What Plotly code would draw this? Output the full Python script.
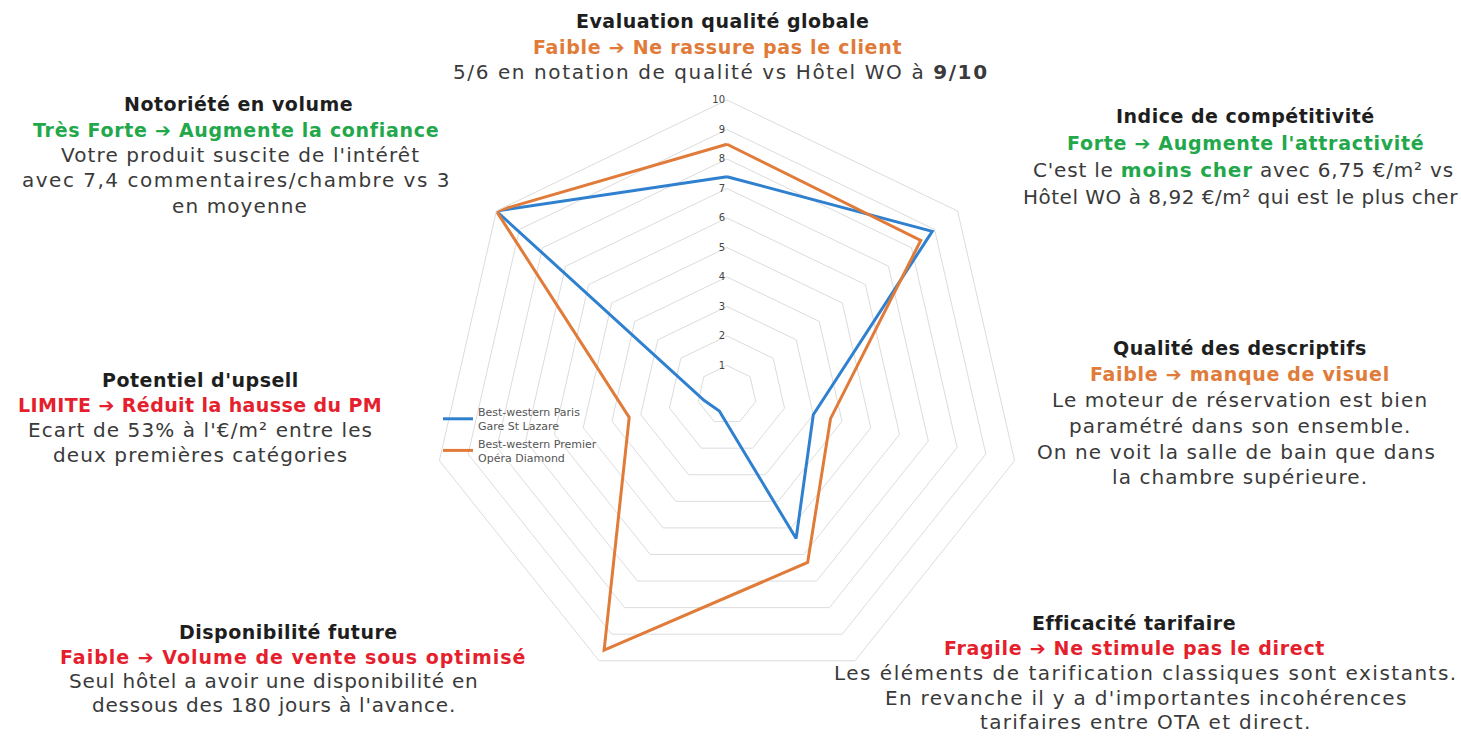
import plotly.graph_objects as go

categories = ["Evaluation qualité globale", "Indice de compétitivité", "Qualité des descriptifs",
              "Efficacité tarifaire", "Disponibilité future", "Potentiel d'upsell", "Notoriété en volume"]
blue_name = "Best-western Paris<br>Gare St Lazare"
orange_name = "Best-western Premier<br>Opéra Diamond"
blue_vals = [7.4, 8.9, 3.0, 5.4, 0.6, 0.8, 10]
orange_vals = [8.5, 8.4, 3.6, 6.3, 9.6, 3.4, 10]
radial_ticks = [1, 2, 3, 4, 5, 6, 7, 8, 9, 10]

BLUE = "#2f80cf"
ORANGE = "#e07b39"
GREEN = "#22a84a"
RED = "#e51f2d"
DARK = "#1e1e1e"
BODY = "#3a3a3a"

W, H = 1461, 748
FONT = "DejaVu Sans"

fig = go.Figure()
for name, vals, col in [(blue_name, blue_vals, BLUE), (orange_name, orange_vals, ORANGE)]:
    fig.add_trace(go.Scatterpolar(
        r=vals + vals[:1], theta=categories + categories[:1], mode="lines", name=name,
        line=dict(color=col, width=3)))

cx, cy, R = 727, 395, 295
fig.update_layout(
    width=W, height=H, margin=dict(l=0, r=0, t=0, b=0),
    paper_bgcolor="white", plot_bgcolor="white",
    font=dict(family=FONT, color=BODY),
    polar=dict(
        domain=dict(x=[(cx - R) / W, (cx + R) / W], y=[1 - (cy + R) / H, 1 - (cy - R) / H]),
        bgcolor="rgba(0,0,0,0)",
        gridshape="linear",
        angularaxis=dict(rotation=90, direction="clockwise", showticklabels=False, ticks="",
                         showgrid=False, showline=True, linecolor="#dcdcdc", linewidth=1),
        radialaxis=dict(range=[0, 10], tickvals=radial_ticks, angle=90, side="counterclockwise",
                        showline=False, ticks="", gridcolor="#dcdcdc", gridwidth=1,
                        tickfont=dict(size=10, color="#444444", family=FONT), tickangle=90),
    ),
    legend=dict(x=438 / W, y=1 - 398 / H, xanchor="left", yanchor="top",
                font=dict(size=11, color="#555555", family=FONT), bgcolor="rgba(0,0,0,0)",
                itemwidth=30, tracegroupgap=4),
)

def line(x, y, text, size=20, color=BODY, bold=False, ls=0.0):
    if bold:
        text = "<b>" + text + "</b>"
    if ls:
        text = f"<span style='letter-spacing:{ls}px'>" + text + "</span>"
    fig.add_annotation(x=x / W, y=1 - y / H, xref="paper", yref="paper", text=text,
                       showarrow=False, xanchor="center", yanchor="middle",
                       font=dict(size=size, color=color, family=FONT))

ARR = "➔"
def green(t):
    return f"<span style='color:{GREEN}'><b>{t}</b></span>"

def title(x, y, t):
    line(x, y, t, size=19, color=DARK, bold=True, ls=0.5)

def sub(x, y, t, col, ls=0.7):
    line(x, y, t, size=19, color=col, bold=True, ls=ls)

def body(x, y, t, ls=1.1):
    line(x, y, t, size=20, color=BODY, ls=ls)

# Top
title(722, 21, "Evaluation qualité globale")
sub(717, 47, f"Faible {ARR} Ne rassure pas le client", ORANGE)
body(721, 72, "5/6 en notation de qualité vs Hôtel WO à <b>9/10</b>", ls=1.6)

# Notoriété
title(238, 104, "Notoriété en volume")
sub(236, 130, f"Très Forte {ARR} Augmente la confiance", GREEN)
body(240, 155, "Votre produit suscite de l'intérêt")
body(236, 180, "avec 7,4 commentaires/chambre vs 3", ls=1.5)
body(240, 206, "en moyenne")

# Indice
title(1245, 116, "Indice de compétitivité")
sub(1245, 143, f"Forte {ARR} Augmente l'attractivité", GREEN)
body(1243, 170, "C'est le " + green("moins cher") + " avec 6,75 €/m² vs", ls=0.8)
body(1240, 197, "Hôtel WO à 8,92 €/m² qui est le plus cher", ls=0.5)

# Qualité des descriptifs
title(1240, 348, "Qualité des descriptifs")
sub(1240, 374, f"Faible {ARR} manque de visuel", ORANGE)
body(1240, 400, "Le moteur de réservation est bien")
body(1240, 426, "paramétré dans son ensemble.")
body(1236, 452, "On ne voit la salle de bain que dans")
body(1240, 477, "la chambre supérieure.")

# Potentiel
title(200, 380, "Potentiel d'upsell")
sub(200, 405, f"LIMITE {ARR} Réduit la hausse du PM", RED, ls=0.4)
body(200, 430, "Ecart de 53% à l'€/m² entre les")
body(200, 455, "deux premières catégories")

# Disponibilité
title(288, 632, "Disponibilité future")
sub(293, 657, f"Faible {ARR} Volume de vente sous optimisé", RED, ls=1.0)
body(274, 681, "Seul hôtel a avoir une disponibilité en", ls=0.8)
body(274, 705, "dessous des 180 jours à l'avance.", ls=0.8)

# Efficacité
title(1134, 623, "Efficacité tarifaire")
sub(1134, 648, f"Fragile {ARR} Ne stimule pas le direct", RED)
body(1146, 673, "Les éléments de tarification classiques sont existants.", ls=1.5)
body(1146, 698, "En revanche il y a d'importantes incohérences", ls=1.3)
body(1146, 722, "tarifaires entre OTA et direct.", ls=1.3)

fig.write_html("out.html")
